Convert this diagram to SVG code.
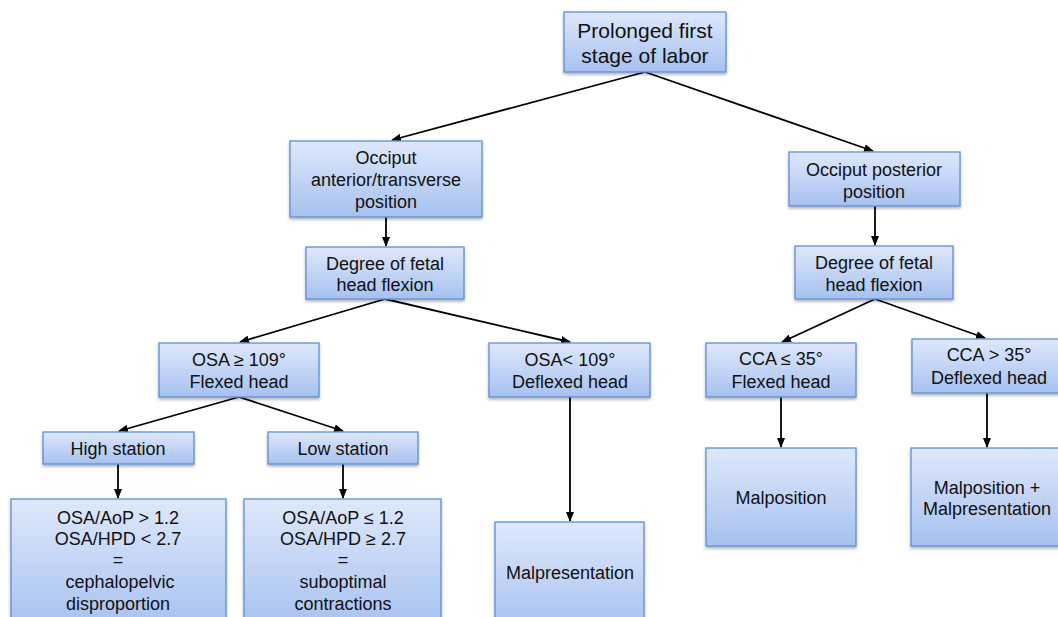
<svg xmlns="http://www.w3.org/2000/svg" width="1058" height="617" viewBox="0 0 1058 617">
<style>
.box{fill:url(#g);stroke:#5f8fd3;stroke-width:1.3;filter:url(#sh)}
.t{font-family:"Liberation Sans",Arial,sans-serif;font-size:18px;fill:#111;text-anchor:middle}
.big{font-size:21px}
.c{stroke:#000;stroke-width:1.8;fill:none;marker-end:url(#ah)}
</style>
<defs>
<linearGradient id="g" x1="0" y1="0" x2="0" y2="1">
<stop offset="0" stop-color="#dfe8fb"/>
<stop offset="1" stop-color="#a6c1f0"/>
</linearGradient>
<filter id="sh" x="-10%" y="-10%" width="120%" height="130%">
<feDropShadow dx="0" dy="2" stdDeviation="1.5" flood-color="#000" flood-opacity="0.3"/>
</filter>
<marker id="ah" markerWidth="10" markerHeight="8" refX="9" refY="4" orient="auto" markerUnits="userSpaceOnUse">
<path d="M0,0 L10,4 L0,8 Z" fill="#000"/>
</marker>
</defs>
<rect width="1058" height="617" fill="#fff"/>
<g id="connectors">
<line class="c" x1="645" y1="72" x2="392" y2="140"/>
<line class="c" x1="645" y1="72" x2="873" y2="151"/>
<line class="c" x1="386" y1="217" x2="386" y2="246"/>
<line class="c" x1="875" y1="206" x2="875" y2="245"/>
<line class="c" x1="385" y1="299" x2="240" y2="342"/>
<line class="c" x1="385" y1="299" x2="570" y2="342"/>
<line class="c" x1="875" y1="299" x2="782" y2="342"/>
<line class="c" x1="875" y1="299" x2="985" y2="338"/>
<line class="c" x1="239" y1="397" x2="119" y2="431"/>
<line class="c" x1="239" y1="397" x2="343" y2="431"/>
<line class="c" x1="118" y1="464" x2="118" y2="498"/>
<line class="c" x1="343" y1="464" x2="343" y2="498"/>
<line class="c" x1="570" y1="397" x2="570" y2="521"/>
<line class="c" x1="781" y1="397" x2="781" y2="447"/>
<line class="c" x1="987" y1="393" x2="987" y2="447"/>
</g>
<g id="n1"><rect class="box" x="564" y="12" width="162" height="60"/>
<text class="t big" x="645" y="38">Prolonged first</text><text class="t big" x="645" y="63">stage of labor</text></g>
<g id="n2"><rect class="box" x="290" y="141" width="192" height="76"/>
<text class="t" x="386" y="164">Occiput</text><text class="t" x="386" y="186">anterior/transverse</text><text class="t" x="386" y="208">position</text></g>
<g id="n3"><rect class="box" x="789" y="152" width="171" height="54"/>
<text class="t" x="874" y="176">Occiput posterior</text><text class="t" x="874" y="198">position</text></g>
<g id="n4"><rect class="box" x="306" y="247" width="158" height="52"/>
<text class="t" x="385" y="270">Degree of fetal</text><text class="t" x="385" y="291">head flexion</text></g>
<g id="n5"><rect class="box" x="795" y="246" width="158" height="53"/>
<text class="t" x="874" y="269">Degree of fetal</text><text class="t" x="874" y="291">head flexion</text></g>
<g id="n6"><rect class="box" x="159" y="343" width="160" height="54"/>
<text class="t" x="239" y="366">OSA ≥ 109°</text><text class="t" x="239" y="388">Flexed head</text></g>
<g id="n7"><rect class="box" x="489" y="343" width="161" height="54"/>
<text class="t" x="570" y="366">OSA&lt; 109°</text><text class="t" x="570" y="388">Deflexed head</text></g>
<g id="n8"><rect class="box" x="706" y="343" width="150" height="54"/>
<text class="t" x="781" y="365">CCA ≤ 35°</text><text class="t" x="781" y="388">Flexed head</text></g>
<g id="n9"><rect class="box" x="912" y="339" width="152" height="54"/>
<text class="t" x="989" y="361">CCA &gt; 35°</text><text class="t" x="989" y="384">Deflexed head</text></g>
<g id="n10"><rect class="box" x="43" y="432" width="151" height="32"/>
<text class="t" x="118" y="455">High station</text></g>
<g id="n11"><rect class="box" x="268" y="432" width="150" height="32"/>
<text class="t" x="343" y="455">Low station</text></g>
<g id="n12"><rect class="box" x="11" y="499" width="215" height="130"/>
<text class="t" x="118" y="524">OSA/AoP &gt; 1.2</text><text class="t" x="118" y="545">OSA/HPD &lt; 2.7</text><text class="t" x="118" y="566">=</text><text class="t" x="120" y="588">cephalopelvic</text><text class="t" x="118" y="610">disproportion</text></g>
<g id="n13"><rect class="box" x="244" y="499" width="197" height="130"/>
<text class="t" x="343" y="524">OSA/AoP ≤ 1.2</text><text class="t" x="343" y="545">OSA/HPD ≥ 2.7</text><text class="t" x="343" y="566">=</text><text class="t" x="343" y="588">suboptimal</text><text class="t" x="343" y="610">contractions</text></g>
<g id="n14"><rect class="box" x="495" y="522" width="149" height="110"/>
<text class="t" x="570" y="579">Malpresentation</text></g>
<g id="n15"><rect class="box" x="706" y="448" width="150" height="98"/>
<text class="t" x="781" y="504">Malposition</text></g>
<g id="n16"><rect class="box" x="911" y="448" width="153" height="98"/>
<text class="t" x="987" y="494">Malposition +</text><text class="t" x="987" y="515">Malpresentation</text></g>
</svg>
